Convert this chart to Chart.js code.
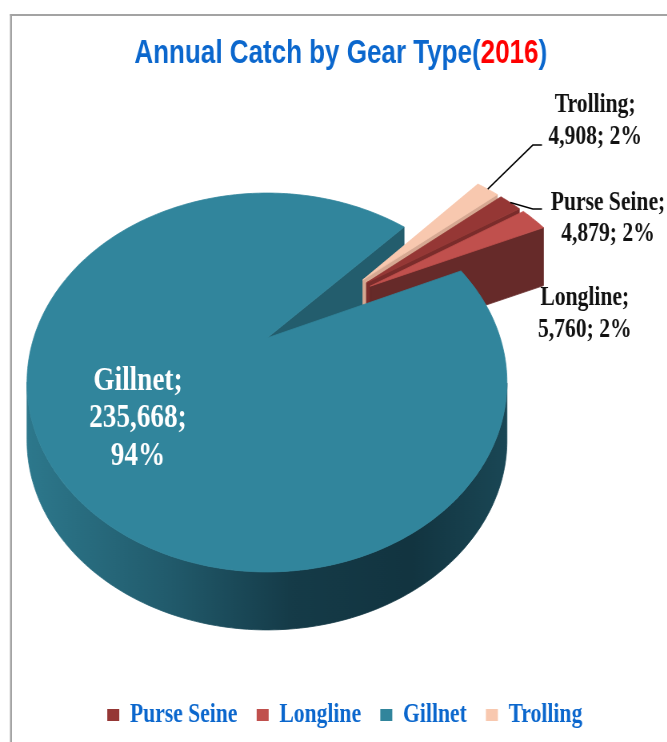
<!DOCTYPE html>
<html>
<head>
<meta charset="utf-8">
<title>Annual Catch by Gear Type (2016)</title>
<script src="https://cdn.jsdelivr.net/npm/chart.js@4.4.1/dist/chart.umd.min.js"></script>
<style>
  html, body { margin: 0; padding: 0; background: #fff; overflow: hidden; }
  /* the chart is laid out wider and squeezed back, which gives the narrow lettering */
  #wrap { width: 834px; height: 742px; transform: scaleX(0.8); transform-origin: 0 0; }
</style>
</head>
<body>
<div id="wrap"><canvas id="catchChart" width="834" height="742"></canvas></div>
<script>
const gearTypes = ['Purse Seine', 'Longline', 'Gillnet', 'Trolling'];
const catchTonnes = [4879, 5760, 235668, 4908];
const gearColors = ['#953735', '#C0504D', '#31859C', '#F8C8AF'];
const titleText = 'Annual Catch by Gear Type';
const titleYear = '2016';

const SQUEEZE = 0.8;
const totalCatch = catchTonnes.reduce((a, b) => a + b, 0);
const sharePct = catchTonnes.map(v => Math.round(v / totalCatch * 100));

// darker faces for the walls of each slice
const faceShades = [
    { wall: '#7a2c2b', side: '#6c2726' },
    { wall: '#662a29', side: '#5c2524' },
    { wall: '#235d6d', side: 'gradient' },
    { wall: '#d6a892', side: '#c99d88' }
];

/**
 * Draws the pie as a tilted solid: the top face in perspective,
 * the walls dropped straight down by a fixed height.
 * Slice angles come from the arc elements Chart.js has laid out.
 */
const pie3d = {
    id: 'pie3d',
    beforeDatasetsDraw(chart, args, o) {
        const ctx = chart.ctx;
        const arcs = chart.getDatasetMeta(0).data;
        const colors = chart.data.datasets[0].backgroundColor;
        const sa = Math.sin(o.tilt), ca = Math.cos(o.tilt);
        const D = o.distance;
        const F = o.rx * Math.sqrt(D * D - ca * ca);
        const drop = o.height;

        // point on the top plane (x right, y away from the viewer) to canvas
        const proj = (x, y) => {
            const depth = D + y * ca;
            return [o.cx + F * x / depth / SQUEEZE, o.cy - F * y * sa / depth];
        };
        const down = p => [p[0], p[1] + drop];

        const sideGradient = ctx.createLinearGradient(o.cx - o.rx / SQUEEZE, 0, o.cx + o.rx / SQUEEZE, 0);
        sideGradient.addColorStop(0, '#2d788c');
        sideGradient.addColorStop(0.3, '#215a6b');
        sideGradient.addColorStop(0.55, '#153b48');
        sideGradient.addColorStop(0.8, '#123440');
        sideGradient.addColorStop(1, '#1a4755');

        const poly = (pts, fill) => {
            ctx.beginPath();
            pts.forEach((q, k) => { if (k) ctx.lineTo(q[0], q[1]); else ctx.moveTo(q[0], q[1]); });
            ctx.closePath();
            ctx.fillStyle = fill;
            ctx.strokeStyle = fill;
            ctx.lineWidth = 0.8;
            ctx.fill();
            ctx.stroke();
        };

        // common direction of the pulled-out slices (circular mean of their middles)
        let sx = 0, sy = 0;
        arcs.forEach((a, i) => {
            if (!o.explode[i]) return;
            const m = (a.startAngle + a.endAngle) / 2;
            sx += Math.cos(m);
            sy += Math.sin(m);
        });
        const groupMid = Math.atan2(sy, sx);
        const wrap = a => Math.atan2(Math.sin(a), Math.cos(a));

        const slices = arcs.map((arc, i) => {
            const a0 = arc.startAngle, a1 = arc.endAngle, mid = (a0 + a1) / 2;
            const e = o.explode[i] || 0;
            // pulled slices move out together, fanned a little along their own middles
            const dir = groupMid + wrap(mid - groupMid) * o.fan;
            const ox = e * Math.cos(dir), oy = -e * Math.sin(dir);
            const steps = Math.max(2, Math.ceil((a1 - a0) / (Math.PI / 180)));
            const rim = [];
            for (let k = 0; k <= steps; k++) {
                const a = a0 + (a1 - a0) * k / steps;
                rim.push(proj(ox + Math.cos(a), oy - Math.sin(a)));
            }
            const am = proj(ox + Math.cos(mid), oy - Math.sin(mid));
            return { i, e, oy, apex: proj(ox, oy), rim, anchor: am };
        });

        // walls whose top edge runs leftwards face down toward the viewer
        const drawWalls = s => {
            const shade = faceShades[s.i];
            let run = [];
            const flush = () => {
                if (run.length > 1) poly(run.concat(run.slice().reverse().map(down)),
                    shade.side === 'gradient' ? sideGradient : shade.side);
                run = [];
            };
            for (let k = 0; k < s.rim.length - 1; k++) {
                if (s.rim[k + 1][0] < s.rim[k][0]) {
                    if (!run.length) run.push(s.rim[k]);
                    run.push(s.rim[k + 1]);
                } else {
                    flush();
                }
            }
            flush();
            const first = s.rim[0], last = s.rim[s.rim.length - 1];
            if (first[0] < s.apex[0]) poly([s.apex, first, down(first), down(s.apex)], shade.wall);
            if (s.apex[0] < last[0]) poly([last, s.apex, down(s.apex), down(last)], shade.wall);
        };
        const drawTop = s => poly([s.apex].concat(s.rim), colors[s.i]);

        const flat = slices.filter(s => !s.e);
        const pulled = slices.filter(s => s.e).sort((p, q) => q.oy - p.oy);
        flat.forEach(drawWalls);
        pulled.forEach(s => { drawWalls(s); drawTop(s); });
        flat.forEach(drawTop);

        chart.$rimAnchors = slices.map(s => s.anchor);
        return false;
    }
};

const sliceLabels = {
    id: 'sliceLabels',
    afterDraw(chart, args, o) {
        const ctx = chart.ctx;
        ctx.save();
        o.items.forEach((item, i) => {
            const parts = [gearTypes[i], catchTonnes[i].toLocaleString('en-US'), sharePct[i] + '%'];
            const lines = item.split === 3
                ? [parts[0] + ';', parts[1] + ';', parts[2]]
                : [parts[0] + ';', parts[1] + '; ' + parts[2]];
            if (item.lead) {
                const a = chart.$rimAnchors[i];
                ctx.beginPath();
                ctx.moveTo(a[0], a[1]);
                item.lead.forEach(p => ctx.lineTo(p[0], p[1]));
                ctx.strokeStyle = '#000';
                ctx.lineWidth = 1.6;
                ctx.stroke();
            }
            ctx.font = 'bold ' + item.size + 'px "Liberation Serif", "Times New Roman", serif';
            ctx.fillStyle = item.color;
            ctx.textAlign = 'center';
            ctx.textBaseline = 'middle';
            lines.forEach((t, k) => ctx.fillText(t, item.x, item.y + k * item.lineGap));
        });
        ctx.restore();
    }
};

const frameAndTitle = {
    id: 'frameAndTitle',
    beforeDraw(chart) {
        const ctx = chart.ctx;
        ctx.save();
        ctx.fillStyle = '#a3a3a3';
        ctx.fillRect(12.5, 14, chart.width, 2);
        ctx.fillRect(12.5, 14, 2.5, chart.height);
        ctx.restore();
    },
    afterDraw(chart) {
        const ctx = chart.ctx;
        ctx.save();
        ctx.font = 'bold 32.5px "Liberation Sans", Arial, sans-serif';
        ctx.textBaseline = 'alphabetic';
        ctx.textAlign = 'left';
        const pieces = [[titleText + '(', '#0B67CD'], [titleYear, '#FF0000'], [')', '#0B67CD']];
        const full = pieces.reduce((w, p) => w + ctx.measureText(p[0]).width, 0);
        let x = 426 - full / 2;
        pieces.forEach(([t, c]) => {
            ctx.fillStyle = c;
            ctx.fillText(t, x, 63);
            x += ctx.measureText(t).width;
        });
        ctx.restore();
    }
};

new Chart(document.getElementById('catchChart'), {
    type: 'pie',
    data: {
        labels: gearTypes,
        datasets: [{
            data: catchTonnes,
            backgroundColor: gearColors,
            borderWidth: 0
        }]
    },
    options: {
        responsive: false,
        animation: false,
        events: [],
        rotation: 50.5,
        layout: { padding: { left: 28, right: 0, top: 0, bottom: 3.5 } },
        plugins: {
            title: { display: false },
            tooltip: { enabled: false },
            legend: {
                position: 'bottom',
                labels: {
                    color: '#0B67CD',
                    font: { family: '"Liberation Serif", "Times New Roman", serif', weight: 'bold', size: 27 },
                    boxWidth: 15,
                    boxHeight: 12,
                    padding: 24
                }
            },
            pie3d: {
                cx: 333.75,
                cy: 338,
                rx: 240,
                tilt: 50.1 * Math.PI / 180,
                distance: 2.731,
                height: 58,
                explode: [0.567, 0.567, 0, 0.567],
                fan: 0.35
            },
            sliceLabels: {
                items: [
                    { x: 760, y: 203, lineGap: 31, size: 27, color: '#111', split: 2,
                      lead: [[666, 209], [677.5, 209]] },
                    { x: 731, y: 298, lineGap: 32, size: 27, color: '#111', split: 2 },
                    { x: 172.5, y: 381, lineGap: 37.5, size: 34, color: '#fff', split: 3 },
                    { x: 744, y: 105, lineGap: 32, size: 27, color: '#111', split: 2,
                      lead: [[666, 145], [677.5, 145]] }
                ]
            }
        }
    },
    plugins: [pie3d, sliceLabels, frameAndTitle]
});
</script>
</body>
</html>
